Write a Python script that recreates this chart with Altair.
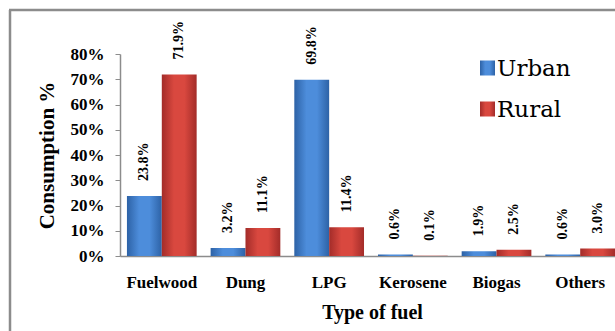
import altair as alt
import pandas as pd

# Household fuel consumption by type, urban vs rural
fuels = ["Fuelwood", "Dung", "LPG", "Kerosene", "Biogas", "Others"]
urban = [0.238, 0.032, 0.698, 0.006, 0.019, 0.006]
rural = [0.719, 0.111, 0.114, 0.001, 0.025, 0.030]
areas = ["Urban", "Rural"]
y_ticks = [0.0, 0.1, 0.2, 0.3, 0.4, 0.5, 0.6, 0.7, 0.8]
# (edge, centre) shades of each series' bevelled fill
shades = {"Urban": ("#2d62a6", "#4d8ddb"), "Rural": ("#a32c29", "#d9483f")}

rows = []
for i, f in enumerate(fuels):
    rows.append({"fuel": f, "area": "Urban", "share": urban[i]})
    rows.append({"fuel": f, "area": "Rural", "share": rural[i]})
df = pd.DataFrame(rows)

SERIF = "Liberation Serif"
LEGEND_FONT = "DejaVu Serif"
W, H = 495, 202
GRAY = "#8c8c8c"


def bevel(area):
    edge, mid = shades[area]
    return alt.Gradient(
        gradient="linear",
        x1=0, x2=1, y1=0, y2=0,
        stops=[
            alt.GradientStop(color=edge, offset=0),
            alt.GradientStop(color=mid, offset=0.35),
            alt.GradientStop(color=mid, offset=0.65),
            alt.GradientStop(color=edge, offset=1),
        ],
    )


base = alt.Chart(df).encode(
    x=alt.X(
        "fuel:N",
        sort=fuels,
        scale=alt.Scale(range=[0, 502], paddingInner=0.167, paddingOuter=0.083),
        axis=alt.Axis(
            title="Type of fuel",
            labelAngle=0,
            labelFont=SERIF,
            labelFontSize=17,
            labelFontWeight="bold",
            labelColor="black",
            labelPadding=18,
            ticks=False,
            tickSize=0,
            domainColor=GRAY,
            domainWidth=1.5,
            titleFont=SERIF,
            titleFontSize=20,
            titleFontWeight="bold",
            titleColor="black",
            titleX=252,
            titleY=56,
            titleBaseline="middle",
        ),
    ),
    xOffset=alt.XOffset("area:N", sort=areas, scale=alt.Scale(domain=areas, paddingInner=0, paddingOuter=0)),
    y=alt.Y(
        "share:Q",
        scale=alt.Scale(domain=[0, 0.8], nice=False),
        axis=alt.Axis(
            values=y_ticks,
            format=".0%",
            grid=False,
            title="Consumption %",
            labelFont=SERIF,
            labelFontSize=17,
            labelFontWeight="bold",
            labelColor="black",
            labelPadding=11,
            labelOverlap=False,
            labelBound=False,
            tickSize=5,
            tickColor=GRAY,
            domainColor=GRAY,
            domainWidth=1.5,
            titleFont=SERIF,
            titleFontSize=21,
            titleFontWeight="bold",
            titleColor="black",
            titleAngle=270,
            titleX=-73,
            titleY=H / 2,
            titleAlign="center",
            titleBaseline="middle",
        ),
    ),
)

bar_layers = [
    base.transform_filter(alt.datum.area == a).mark_bar(fill=bevel(a))
    for a in areas
]

labels = base.mark_text(
    angle=270,
    align="left",
    baseline="middle",
    yOffset=-15,
    font=SERIF,
    fontSize=14,
    fontWeight="bold",
    color="black",
).encode(text=alt.Text("share:Q", format=".1%"))

# Legend: bevelled swatch plus series name, one row per series
legend_src = pd.DataFrame({"area": areas})
legend_layers = []
for i, a in enumerate(areas):
    row_y = 14 + 41 * i
    legend_layers.append(
        alt.Chart(legend_src)
        .transform_filter(alt.datum.area == a)
        .mark_rect(fill=bevel(a))
        .encode(x=alt.value(360), x2=alt.value(375), y=alt.value(row_y - 7.5), y2=alt.value(row_y + 7.5))
    )
    legend_layers.append(
        alt.Chart(legend_src)
        .transform_filter(alt.datum.area == a)
        .mark_text(font=LEGEND_FONT, fontSize=23, color="black", align="left", baseline="middle")
        .encode(x=alt.value(377), y=alt.value(row_y + 1), text="area:N")
    )

# Outer frame around the figure
frame_src = pd.DataFrame({"k": [0]})
frame_left = alt.Chart(frame_src).mark_rule(color=GRAY, strokeWidth=2.5).encode(
    x=alt.value(-110), y=alt.value(-44), y2=alt.value(H + 80)
)
frame_top = alt.Chart(frame_src).mark_rule(color=GRAY, strokeWidth=2.5).encode(
    x=alt.value(-111), x2=alt.value(W + 10), y=alt.value(-44)
)

chart = (
    alt.layer(*bar_layers, labels, *legend_layers, frame_left, frame_top)
    .properties(
        width=W,
        height=H,
        autosize="none",
        padding={"left": 120, "top": 54, "right": 0, "bottom": 75},
        background="white",
    )
    .configure_view(stroke=None)
)

chart.save("out.html", embed_options={"renderer": "svg", "actions": False})
